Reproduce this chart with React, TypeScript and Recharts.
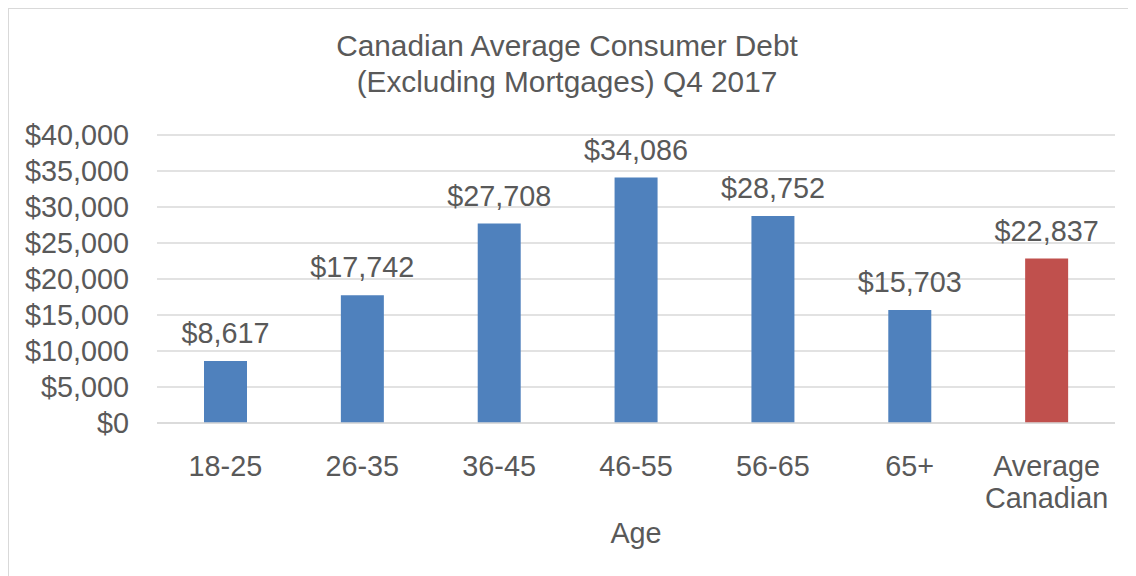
import React from 'react'
import { BarChart, Bar, XAxis, YAxis, CartesianGrid, LabelList, Cell } from 'recharts'

const ageGroups = ['18-25', '26-35', '36-45', '46-55', '56-65', '65+', 'Average Canadian']
const debtValues = [8617, 17742, 27708, 34086, 28752, 15703, 22837]
const barColors = ['#4F81BD', '#4F81BD', '#4F81BD', '#4F81BD', '#4F81BD', '#4F81BD', '#C0504D']
const yTicks = [0, 5000, 10000, 15000, 20000, 25000, 30000, 35000, 40000]

const data = ageGroups.map((age, i) => ({ age, debt: debtValues[i] }))

const FONT = '"Liberation Sans", Arial, sans-serif'
const TEXT = '#595959'

const money = (v: number) => '$' + v.toLocaleString('en-US')

// two-line category labels ("Average Canadian")
const AgeTick = (props: any) => {
    const { x, y, payload } = props
    const words = String(payload.value).split(' ')
    return (
        <text x={x} y={y} textAnchor="middle" fill={TEXT} fontSize={28.8} fontFamily={FONT}>
            {words.map((w: string, i: number) => (
                <tspan key={i} x={x} dy={i === 0 ? 44.5 : 32}>{w}</tspan>
            ))}
        </text>
    )
}

const App = () => {
    return (
        <div
            style={{
                position: 'relative',
                width: 1128,
                height: 568,
                boxSizing: 'border-box',
                borderTop: '1px solid #d9d9d9',
                borderLeft: '1px solid #d9d9d9',
                background: '#fff',
                fontFamily: FONT
            }}
        >
            {/* Title */}
            <div
                style={{
                    position: 'absolute',
                    left: 0,
                    top: 19,
                    width: 1116,
                    textAlign: 'center',
                    color: TEXT,
                    fontSize: 29.8,
                    lineHeight: '36px'
                }}
            >
                Canadian Average Consumer Debt
                <br />
                (Excluding Mortgages) Q4 2017
            </div>

            <BarChart
                width={1127}
                height={567}
                data={data}
                margin={{ top: 126, right: 21, left: 0, bottom: 0 }}
            >
                <CartesianGrid vertical={false} stroke="#d9d9d9" strokeWidth={1.5} />
                <XAxis
                    dataKey="age"
                    height={153}
                    tickLine={false}
                    axisLine={{ stroke: '#d9d9d9', strokeWidth: 1.5 }}
                    interval={0}
                    tick={<AgeTick />}
                    label={{
                        value: 'Age',
                        position: 'insideBottom',
                        offset: 33,
                        fill: TEXT,
                        fontSize: 28.8,
                        fontFamily: FONT
                    }}
                />
                <YAxis
                    width={148}
                    domain={[0, 40000]}
                    ticks={yTicks}
                    interval={0}
                    tickLine={false}
                    axisLine={false}
                    tickSize={0}
                    tickMargin={28}
                    tickFormatter={money}
                    tick={{ fill: TEXT, fontSize: 28.8, fontFamily: FONT }}
                />
                <Bar dataKey="debt" barSize={43} isAnimationActive={false}>
                    {data.map((d, i) => (
                        <Cell key={d.age} fill={barColors[i]} />
                    ))}
                    <LabelList
                        dataKey="debt"
                        position="top"
                        offset={18}
                        formatter={(v: any) => money(Number(v))}
                        fill={TEXT}
                        fontSize={28.8}
                        fontFamily={FONT}
                    />
                </Bar>
            </BarChart>
        </div>
    )
}

export default App
